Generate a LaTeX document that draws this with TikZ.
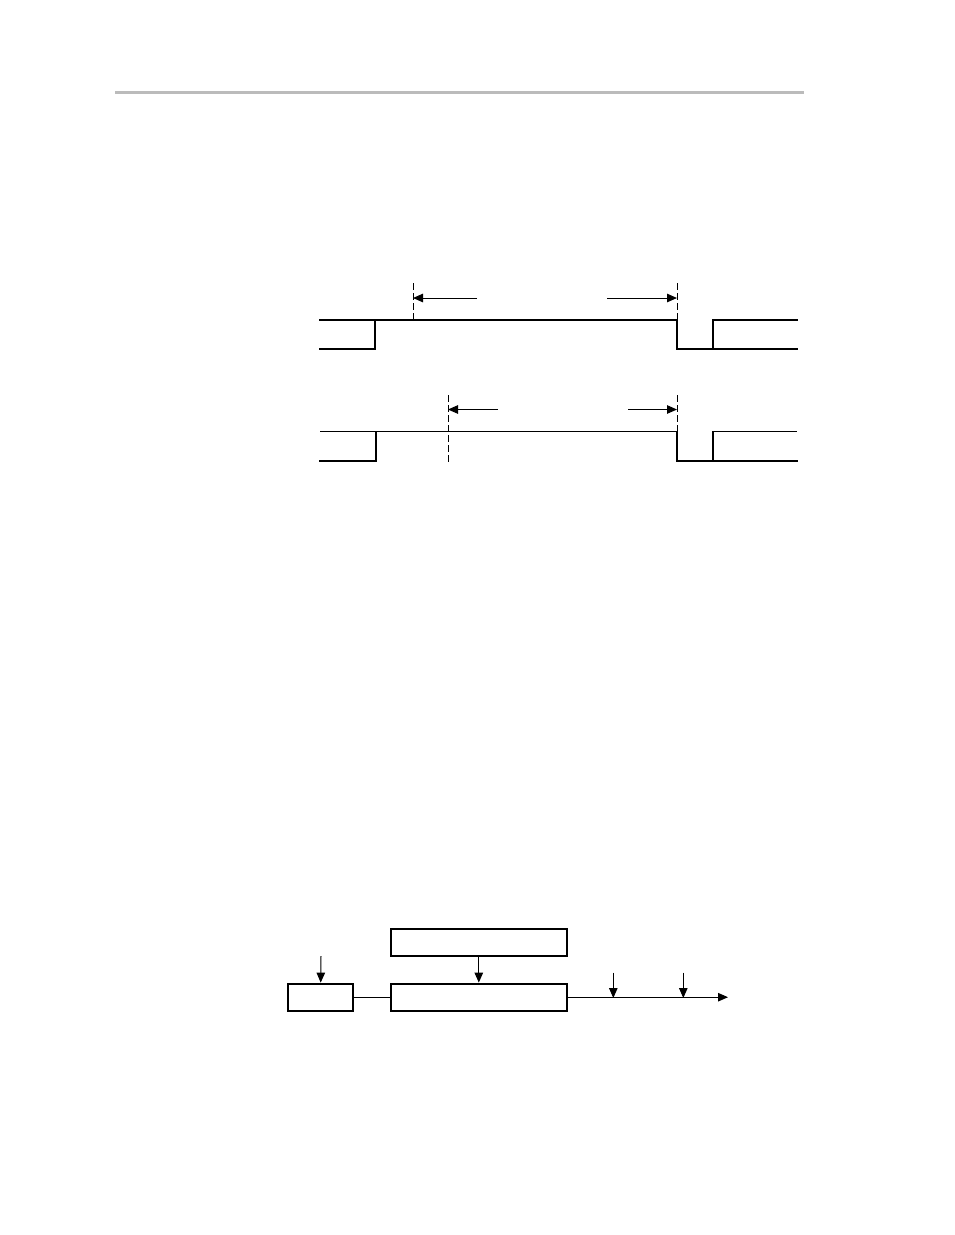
\documentclass[tikz,border=0pt]{standalone}
\usetikzlibrary{arrows.meta}
\begin{document}
\begin{tikzpicture}[x=1pt,y=-1pt,
  wave/.style={line width=2pt,line cap=rect},
  thinwave/.style={line width=1.2pt},
  dimline/.style={line width=1pt,dash pattern=on 7pt off 3pt},
  arr/.style={line width=1pt,-{Triangle[length=10pt,width=8.5pt]}},
  box/.style={draw,line width=2.2pt,minimum height=27pt,inner sep=0pt},
  conn/.style={line width=1pt}]
\useasboundingbox (0,0) rectangle (954,1235);
% header rule
\coordinate (r1) at (115,92.5);
\coordinate (r2) at (804,92.5);
\draw[line width=3pt,color={rgb,255:red,187;green,187;blue,187}] (r1) -- (r2);

% ---- top waveform ----
\coordinate (t1) at (320,320);
\coordinate (t2) at (677,320);
\coordinate (b1) at (320,348.5);
\coordinate (b2) at (375,348.5);
\coordinate (b3) at (797,348.5);
\coordinate (h3) at (713,320);
\coordinate (h4) at (797,320);
\draw[wave] (t1) -- (t2) -- (677,348.5) -- (b3);
\draw[wave] (b1) -- (b2) -- (375,320);
\draw[wave] (713,348.5) -- (h3) -- (h4);
\coordinate (d1a) at (413,283);
\coordinate (d1b) at (413,320);
\coordinate (d2a) at (677,283);
\coordinate (d2b) at (677,320);
\draw[dimline] (d1a) -- (d1b);
\draw[dimline] (d2a) -- (d2b);
\coordinate (a1s) at (477,298);
\coordinate (a1e) at (413,298);
\coordinate (a2s) at (607,298);
\coordinate (a2e) at (677,298);
\draw[arr] (a1s) -- (a1e);
\draw[arr] (a2s) -- (a2e);

% ---- bottom waveform ----
\coordinate (u1) at (320,431.5);
\coordinate (u2) at (677,431.5);
\coordinate (l1) at (320,460.5);
\coordinate (l2) at (376,460.5);
\coordinate (l3) at (797,460.5);
\coordinate (u3) at (713,431.5);
\coordinate (u4) at (797,431.5);
\draw[thinwave] (u1) -- (u2);
\draw[wave] (376,431.5) -- (l2) -- (l1);
\draw[wave] (u2) -- (677,460.5) -- (l3);
\draw[wave] (713,460.5) -- (u3);
\draw[thinwave] (u3) -- (u4);
\coordinate (e1a) at (448,395);
\coordinate (e1b) at (448,462);
\coordinate (e2a) at (677,395);
\coordinate (e2b) at (677,431.5);
\draw[dimline] (e1a) -- (e1b);
\draw[dimline] (e2a) -- (e2b);
\coordinate (c1s) at (498,409.5);
\coordinate (c1e) at (448,409.5);
\coordinate (c2s) at (628,409.5);
\coordinate (c2e) at (677,409.5);
\draw[arr] (c1s) -- (c1e);
\draw[arr] (c2s) -- (c2e);

% ---- block diagram ----
\node[box,minimum width=64.7pt] (A) at (320.7,997.2) {};
\node[box,minimum width=175.7pt,minimum height=26.4pt] (B) at (478.8,942.5) {};
\node[box,minimum width=175.7pt] (C) at (478.8,997.2) {};
\coordinate (ina) at (321,956);
\draw[arr] (ina) -- (A.north);
\draw[arr] (B.south) -- (C.north);
\draw[conn] (A.east) -- (C.west);
\coordinate (out) at (728,997.2);
\draw[arr] (C.east) -- (out);
\coordinate (p1top) at (613.3,972.5);
\coordinate (p1) at (613.3,998);
\coordinate (p2top) at (683.3,972.5);
\coordinate (p2) at (683.3,998);
\draw[arr] (p1top) -- (p1);
\draw[arr] (p2top) -- (p2);
\end{tikzpicture}
\end{document}
